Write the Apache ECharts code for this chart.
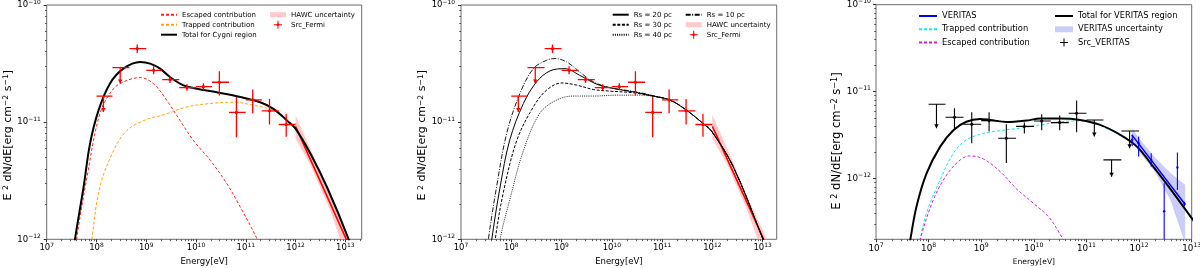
<!DOCTYPE html>
<html>
<head>
<meta charset="utf-8">
<script src="https://cdn.jsdelivr.net/npm/echarts@6.0.0/dist/echarts.min.js"></script>
<style>
html,body{margin:0;padding:0;background:#fff;}
#chart{width:1200px;height:268px;}
</style>
</head>
<body>
<div id="chart"></div>
<script>
// ================= DATA =================
// tick labels are 10^n
const xTickExp = [7, 8, 9, 10, 11, 12, 13];
const yTickExp = [-12, -11, -10];

// ---- Fermi-LAT points (Src_Fermi), E [eV], E^2 dN/dE [erg cm^-2 s^-1]
const fermiE   = [1.38e8, 3.0e8, 6.6e8, 1.41e9, 3.0e9, 6.6e9, 1.41e10, 2.95e10, 6.5e10, 1.38e11, 3.0e11, 6.5e11];
const fermiElo = [1.0e8, 2.1e8, 4.6e8, 1.0e9, 2.1e9, 4.6e9, 1.0e10, 2.1e10, 4.6e10, 1.0e11, 2.1e11, 4.6e11];
const fermiEhi = [2.1e8, 4.6e8, 1.0e9, 2.1e9, 4.6e9, 1.0e10, 2.1e10, 4.6e10, 1.0e11, 2.1e11, 4.6e11, 1.0e12];
const fermiF   = [1.67e-11, 2.92e-11, 4.24e-11, 2.77e-11, 2.31e-11, 1.97e-11, 2.01e-11, 2.19e-11, 1.21e-11, 1.55e-11, 1.25e-11, 9.55e-12];
const fermiFlo = [1.22e-11, 2.14e-11, 3.9e-11, 2.56e-11, 2.16e-11, 1.85e-11, 1.87e-11, 1.69e-11, 7.45e-12, 1.19e-11, 9.55e-12, 7.5e-12];
const fermiFhi = [1.67e-11, 2.92e-11, 4.6e-11, 3.0e-11, 2.47e-11, 2.11e-11, 2.15e-11, 2.72e-11, 1.64e-11, 1.9e-11, 1.58e-11, 1.18e-11];
const fermiUL  = [1, 1, 0, 0, 0, 0, 0, 0, 0, 0, 0, 0];

// ---- HAWC best fit and uncertainty band
const hawcLineE = [1.0e12, 1.05e13, 1.5e13];
const hawcLineF = [9.2e-12, 1.0e-12, 7.0e-13];
const hawcBandE  = [1.0e12, 2.0e12, 5.0e12, 1.0e13, 1.2e13];
const hawcBandLo = [7.2e-12, 4.3e-12, 1.75e-12, 7.5e-13, 6.0e-13];
const hawcBandHi = [1.15e-11, 5.9e-12, 2.3e-12, 1.2e-12, 1.0e-12];

// ---- Panel 1 model curves (Cygni region)
const p1TotalE = [3.2e7, 3.7e7, 5.5e7, 7.4e7, 1.1e8, 1.86e8, 3.47e8, 7.6e8, 1.2e9, 1.9e9, 3.0e9, 5.6e9, 1.05e10, 2.6e10, 7.8e10, 1.95e11, 3.6e11, 6.8e11, 1.0e12, 2.0e12, 4.3e12, 1.17e13, 1.5e13];
const p1TotalF = [6.0e-13, 1.0e-12, 2.78e-12, 6.5e-12, 1.26e-11, 2.13e-11, 2.86e-11, 3.26e-11, 3.16e-11, 2.86e-11, 2.43e-11, 2.06e-11, 1.93e-11, 1.80e-11, 1.64e-11, 1.48e-11, 1.30e-11, 1.03e-11, 8.8e-12, 5.37e-12, 2.78e-12, 1.0e-12, 7.0e-13];
const p1EscE = [3.4e7, 4.0e7, 6.3e7, 1.17e8, 2.2e8, 4.1e8, 7.6e8, 1.4e9, 2.6e9, 4.8e9, 8.9e9, 1.95e10, 4.2e10, 7.8e10, 1.7e11, 2.2e11];
const p1EscF = [5.0e-13, 1.0e-12, 3.2e-12, 1.18e-11, 1.93e-11, 2.27e-11, 2.4e-11, 2.13e-11, 1.53e-11, 1.03e-11, 6.97e-12, 4.7e-12, 2.97e-12, 1.88e-12, 1.0e-12, 7.5e-13];
const p1TrapE = [7.0e7, 8.1e7, 1.17e8, 2.2e8, 4.1e8, 8.9e8, 2.6e9, 6.6e9, 2.2e10, 5.8e10, 1.45e11, 3.6e11, 6.8e11, 1.0e12, 2.0e12, 4.3e12, 1.17e13, 1.5e13];
const p1TrapF = [5.0e-13, 1.0e-12, 2.78e-12, 5.7e-12, 8.5e-12, 1.03e-11, 1.18e-11, 1.35e-11, 1.45e-11, 1.48e-11, 1.39e-11, 1.26e-11, 1.03e-11, 8.7e-12, 5.3e-12, 2.75e-12, 1.0e-12, 7.0e-13];

// ---- Panel 2 model curves (different Rs)
const rs20E = [3.4e7, 4.1e7, 6.0e7, 9.3e7, 1.74e8, 3.2e8, 5.9e8, 1.17e9, 2.3e9, 5.0e9, 1.07e10, 2.7e10, 6.8e10, 1.45e11, 3.1e11, 6.6e11, 9.8e11, 2.6e12, 1.02e13, 1.4e13];
const rs20F = [5.0e-13, 1.0e-12, 2.8e-12, 7.0e-12, 1.44e-11, 2.21e-11, 2.74e-11, 2.86e-11, 2.51e-11, 2.11e-11, 1.94e-11, 1.81e-11, 1.67e-11, 1.54e-11, 1.26e-11, 9.7e-12, 8.3e-12, 4.17e-12, 1.0e-12, 7.0e-13];
const rs10E = [2.9e7, 3.5e7, 5.1e7, 8.1e7, 1.48e8, 2.75e8, 5.0e8, 7.4e8, 1.26e9, 2.3e9, 4.3e9, 9.1e9, 2.7e10, 6.8e10, 1.45e11, 3.1e11, 6.6e11, 9.8e11, 2.6e12, 1.02e13, 1.4e13];
const rs10F = [5.0e-13, 1.0e-12, 2.8e-12, 8.0e-12, 1.75e-11, 2.86e-11, 3.37e-11, 3.49e-11, 3.27e-11, 2.68e-11, 2.21e-11, 1.97e-11, 1.83e-11, 1.68e-11, 1.54e-11, 1.26e-11, 9.7e-12, 8.3e-12, 4.17e-12, 1.0e-12, 7.0e-13];
const rs30E = [4.0e7, 4.8e7, 6.9e7, 1.29e8, 2.75e8, 5.0e8, 1.0e9, 2.0e9, 4.3e9, 9.1e9, 2.7e10, 6.8e10, 1.45e11, 3.1e11, 6.6e11, 9.8e11, 2.6e12, 1.02e13, 1.4e13];
const rs30F = [5.0e-13, 1.0e-12, 2.47e-12, 7.0e-12, 1.35e-11, 1.87e-11, 2.16e-11, 2.07e-11, 1.9e-11, 1.84e-11, 1.78e-11, 1.66e-11, 1.54e-11, 1.26e-11, 9.7e-12, 8.3e-12, 4.17e-12, 1.0e-12, 7.0e-13];
const rs40E = [5.0e7, 6.0e7, 9.3e7, 1.74e8, 3.7e8, 7.9e8, 1.7e9, 4.3e9, 1.26e10, 3.6e10, 6.8e10, 1.45e11, 3.1e11, 6.6e11, 9.8e11, 2.6e12, 1.02e13, 1.4e13];
const rs40F = [5.0e-13, 1.0e-12, 2.16e-12, 5.7e-12, 1.19e-11, 1.54e-11, 1.67e-11, 1.67e-11, 1.70e-11, 1.70e-11, 1.66e-11, 1.54e-11, 1.26e-11, 9.7e-12, 8.3e-12, 4.17e-12, 1.0e-12, 7.0e-13];

// ---- Panel 3 (VERITAS region)
const p3TotalE = [4.0e7, 4.5e7, 5.9e7, 9.1e7, 1.66e8, 2.95e8, 5.2e8, 9.5e8, 1.48e9, 3.0e9, 7.2e9, 1.32e10, 3.2e10, 7.6e10, 1.82e11, 4.4e11, 9.1e11, 1.86e12, 4.5e12, 1.0e13, 1.2e13];
const p3TotalF = [1.3e-13, 2.0e-13, 4.8e-13, 1.14e-12, 2.33e-12, 3.6e-12, 4.5e-12, 4.85e-12, 4.72e-12, 4.47e-12, 4.64e-12, 4.9e-12, 4.9e-12, 4.72e-12, 4.14e-12, 3.18e-12, 2.33e-12, 1.37e-12, 6.8e-13, 3.5e-13, 3.0e-13];
const p3TrapE = [6.0e7, 6.9e7, 9.1e7, 1.66e8, 2.95e8, 5.2e8, 1.1e9, 2.3e9, 5.5e9, 1.32e10, 3.2e10, 7.6e10, 1.35e11, 1.82e11, 4.4e11, 9.1e11, 1.86e12, 4.5e12, 1.0e13];
const p3TrapF = [1.3e-13, 2.0e-13, 4.0e-13, 9.7e-13, 1.95e-12, 2.79e-12, 3.3e-12, 3.56e-12, 3.8e-12, 4.14e-12, 4.5e-12, 4.6e-12, 4.45e-12, 4.1e-12, 3.15e-12, 2.3e-12, 1.36e-12, 6.8e-13, 3.5e-13];
const p3EscE = [6.0e7, 6.9e7, 1.23e8, 2.2e8, 4.0e8, 6.0e8, 1.1e9, 2.3e9, 4.7e9, 9.8e9, 2.0e10, 3.6e10, 4.5e10];
const p3EscF = [1.3e-13, 2.0e-13, 5.7e-13, 1.1e-12, 1.64e-12, 1.82e-12, 1.68e-12, 1.2e-12, 7.6e-13, 5.2e-13, 3.5e-13, 2.0e-13, 1.6e-13];

// VERITAS power law and uncertainty band
const verLineE = [7.3e11, 7.4e12];
const verLineF = [3.18e-12, 5.1e-13];
const verBandE  = [7.3e11, 1.0e12, 2.0e12, 4.0e12, 7.5e12];
const verBandLo = [2.66e-12, 2.04e-12, 1.2e-12, 5.5e-13, 1.8e-13];
const verBandHi = [3.8e-12, 2.9e-12, 1.75e-12, 1.15e-12, 8.5e-13];

// Src_VERITAS (LAT points in the VERITAS region)
const srcvE   = [1.41e8, 3.1e8, 6.6e8, 1.41e9, 3.0e9, 6.6e9, 1.41e10, 3.1e10, 6.5e10, 1.41e11, 3.0e11, 6.6e11];
const srcvElo = [1.0e8, 2.1e8, 4.6e8, 1.0e9, 2.1e9, 4.6e9, 1.0e10, 2.1e10, 4.6e10, 1.0e11, 2.1e11, 4.6e11];
const srcvEhi = [2.1e8, 4.6e8, 1.0e9, 2.1e9, 4.6e9, 1.0e10, 2.1e10, 4.6e10, 1.0e11, 2.1e11, 4.6e11, 1.0e12];
const srcvF   = [7.15e-12, 5.07e-12, 4.22e-12, 4.64e-12, 2.91e-12, 3.98e-12, 4.6e-12, 4.4e-12, 5.64e-12, 4.72e-12, 1.64e-12, 3.53e-12];
const srcvFlo = [3.8e-12, 3.6e-12, 2.55e-12, 3.5e-12, 1.51e-12, 3.3e-12, 3.6e-12, 3.6e-12, 3.4e-12, 3.04e-12, 1.05e-12, 2.23e-12];
const srcvFhi = [7.15e-12, 6.45e-12, 5.8e-12, 5.8e-12, 4.2e-12, 4.4e-12, 5.5e-12, 5.3e-12, 7.9e-12, 4.72e-12, 1.64e-12, 3.53e-12];
const srcvUL  = [1, 0, 0, 0, 0, 0, 0, 0, 0, 1, 1, 1];

// VERITAS spectral points
const vptE   = [7.4e11, 9.8e11, 1.7e12, 3.0e12, 5.35e12, 7.3e12];
const vptF   = [2.8e-12, 2.55e-12, 1.64e-12, 4.2e-13, 1.34e-12, 5.1e-13];
const vptFlo = [2.35e-12, 1.79e-12, 1.37e-12, 1.0e-13, 7.4e-13, 4.8e-13];
const vptFhi = [3.2e-12, 3.04e-12, 1.95e-12, 8.8e-13, 2.0e-12, 5.4e-13];

// ================= CHART =================
const L = Math.log10;
const FONT = 'DejaVu Sans';
const YNAME = 'E {s|2} dN/dE[erg cm{s|\u22122} s{s|\u22121}]';

function curve(E, F) { return E.map((e, i) => [L(e), L(F[i])]); }
function errData(E, Elo, Ehi, F, Flo, Fhi, UL) {
  return E.map((e, i) => [L(e), L(F[i]), L(Elo[i]), L(Ehi[i]), L(Flo[i]), L(Fhi[i]), UL ? UL[i] : 0]);
}
function bandData(E, lo, hi) { return E.map((e, i) => [L(e), L(lo[i]), L(hi[i])]); }

function minorVals(lo, hi) {
  const out = [];
  for (let n = Math.floor(lo) - 1; n <= Math.ceil(hi); n++) {
    for (let k = 2; k <= 9; k++) {
      const v = n + L(k);
      if (v >= lo - 1e-9 && v <= hi + 1e-9) out.push(v);
    }
  }
  return out;
}
function pow(v) {
  const n = Math.round(v);
  return '{b|10}{s|' + (n < 0 ? '\u2212' + (-n) : n) + '}';
}
function rich(fs) {
  return {
    b: { fontFamily: FONT, fontSize: fs, color: '#000', lineHeight: fs * 1.35 },
    s: { fontFamily: FONT, fontSize: fs * 0.7, color: '#000', verticalAlign: 'top', lineHeight: fs * 0.75 }
  };
}
function nameRich(fs) {
  return {
    s: { fontFamily: FONT, fontSize: fs * 0.7, color: '#000', verticalAlign: 'top', lineHeight: fs * 0.8 }
  };
}

const panels = [
  { left: 46.7, top: 5, width: 315, height: 234.3, xmax: 13.33, ymin: -12, fs: 8.5, nameFs: 8.5, yNameFs: 11, yShift: 26, xNameGap: 15, yNameGap: 28, yLabMargin: 6 },
  { left: 461, top: 5, width: 315.7, height: 234.3, xmax: 13.28, ymin: -12, fs: 8.5, nameFs: 8.5, yNameFs: 11, yShift: 26, xNameGap: 15, yNameGap: 31, yLabMargin: 6 },
  { left: 876, top: 4.7, width: 315.7, height: 234.6, xmax: 13, ymin: L(2e-13), fs: 8.8, nameFs: 7.6, yNameFs: 11.6, yShift: 38, xNameGap: 18, yNameGap: 30, yLabMargin: 5 }
];

const grid = [], xAxis = [], yAxis = [];
panels.forEach((p, i) => {
  grid.push({ left: p.left, top: p.top, width: p.width, height: p.height, show: true,
    borderColor: '#6a6a6a', borderWidth: 1, backgroundColor: 'transparent', containLabel: false, outerBoundsMode: 'none' });
  const tickStyle = { color: '#333', width: 1 };
  xAxis.push({
    type: 'value', gridIndex: i, min: 7, max: p.xmax, position: 'bottom', offset: 0,
    axisLine: { show: false }, splitLine: { show: false },
    axisTick: { show: true, length: 3, lineStyle: tickStyle, customValues: xTickExp },
    axisLabel: { show: true, customValues: xTickExp, margin: 3, formatter: pow, rich: rich(p.fs) },
    name: 'Energy[eV]', nameLocation: 'middle', nameGap: p.xNameGap,
    nameTextStyle: { fontFamily: FONT, fontSize: p.nameFs, color: '#000' }
  });
  xAxis.push({
    type: 'value', gridIndex: i, min: 7, max: p.xmax, position: 'bottom', offset: 0,
    axisLine: { show: false }, splitLine: { show: false }, axisLabel: { show: false },
    axisTick: { show: true, length: 1.8, lineStyle: { color: '#333', width: 0.8 }, customValues: minorVals(7, p.xmax) }
  });
  yAxis.push({
    type: 'value', gridIndex: i, min: p.ymin, max: -10, position: 'left', offset: 0,
    axisLine: { show: false }, splitLine: { show: false },
    axisTick: { show: true, length: 3, lineStyle: tickStyle, customValues: yTickExp },
    axisLabel: { show: true, customValues: yTickExp, margin: p.yLabMargin, formatter: pow, rich: rich(p.fs) },
    name: YNAME, nameLocation: 'middle', nameGap: p.yNameGap, nameRotate: 90,
    nameTextStyle: { fontFamily: FONT, fontSize: p.yNameFs, color: '#000', rich: nameRich(p.yNameFs),
      padding: [0, p.yShift, 0, 0] }
  });
  yAxis.push({
    type: 'value', gridIndex: i, min: p.ymin, max: -10, position: 'left', offset: 0,
    axisLine: { show: false }, splitLine: { show: false }, axisLabel: { show: false },
    axisTick: { show: true, length: 1.8, lineStyle: { color: '#333', width: 0.8 }, customValues: minorVals(p.ymin, -10) }
  });
});

function lineSeries(name, panel, data, color, width, type, z) {
  return {
    name: name, type: 'line', xAxisIndex: 2 * panel, yAxisIndex: 2 * panel, data: data,
    symbol: 'none', smooth: 0.35, clip: true, z: z || 3, silent: true,
    lineStyle: { color: color, width: width, type: type || 'solid' },
    itemStyle: { color: color }
  };
}
function bandSeries(name, panel, data, color) {
  return {
    name: name, type: 'custom', xAxisIndex: 2 * panel, yAxisIndex: 2 * panel, data: data,
    clip: true, z: 1, silent: true, itemStyle: { color: color },
    renderItem: function (params, api) {
      if (params.dataIndex !== 0) return null;
      const n = params.dataInsideLength;
      const pts = [];
      for (let i = 0; i < n; i++) pts.push(api.coord([api.value(0, i), api.value(2, i)]));
      for (let i = n - 1; i >= 0; i--) pts.push(api.coord([api.value(0, i), api.value(1, i)]));
      return { type: 'polygon', shape: { points: pts }, style: { fill: color } };
    }
  };
}
function errSeries(name, panel, data, color, lw, r) {
  return {
    name: name, type: 'custom', xAxisIndex: 2 * panel, yAxisIndex: 2 * panel, data: data,
    clip: true, z: 6, silent: true, itemStyle: { color: color },
    renderItem: function (params, api) {
      const x = api.value(0), y = api.value(1);
      const c = api.coord([x, y]);
      const xl = api.coord([api.value(2), y]), xh = api.coord([api.value(3), y]);
      const yl = api.coord([x, api.value(4)]), yh = api.coord([x, api.value(5)]);
      const ul = api.value(6);
      const st = { stroke: color, lineWidth: lw };
      const ch = [];
      if (Math.abs(xh[0] - xl[0]) > 0.5) ch.push({ type: 'line', shape: { x1: xl[0], y1: c[1], x2: xh[0], y2: c[1] }, style: st });
      ch.push({ type: 'line', shape: { x1: c[0], y1: yh[1], x2: c[0], y2: yl[1] }, style: st });
      if (ul) {
        ch.push({ type: 'polygon', shape: { points: [[c[0] - 2.2, yl[1] - 4], [c[0] + 2.2, yl[1] - 4], [c[0], yl[1]]] }, style: { fill: color } });
      } else {
        ch.push({ type: 'circle', shape: { cx: c[0], cy: c[1], r: r }, style: { fill: color } });
      }
      return { type: 'group', children: ch };
    }
  };
}

const fermi = errData(fermiE, fermiElo, fermiEhi, fermiF, fermiFlo, fermiFhi, fermiUL);
const srcv = errData(srcvE, srcvElo, srcvEhi, srcvF, srcvFlo, srcvFhi, srcvUL);
const vpts = errData(vptE, vptE, vptE, vptF, vptFlo, vptFhi, null);

const series = [
  // panel 1
  bandSeries('HAWC uncertainty|1', 0, bandData(hawcBandE, hawcBandLo, hawcBandHi), '#ffcaca'),
  lineSeries('HAWC fit|1', 0, curve(hawcLineE, hawcLineF), '#ff0000', 1.6, 'solid', 2),
  lineSeries('Escaped contribution|1', 0, curve(p1EscE, p1EscF), '#ff2020', 1, [3, 2]),
  lineSeries('Trapped contribution|1', 0, curve(p1TrapE, p1TrapF), '#ffa500', 1, [3, 2]),
  lineSeries('Total for Cygni region|1', 0, curve(p1TotalE, p1TotalF), '#000000', 2, 'solid', 4),
  errSeries('Src_Fermi|1', 0, fermi, '#ff0000', 1.3, 1.6),
  // panel 2
  bandSeries('HAWC uncertainty|2', 1, bandData(hawcBandE, hawcBandLo, hawcBandHi), '#ffcaca'),
  lineSeries('HAWC fit|2', 1, curve(hawcLineE, hawcLineF), '#ff0000', 1.6, 'solid', 2),
  lineSeries('Rs = 20 pc|2', 1, curve(rs20E, rs20F), '#000000', 1, 'solid'),
  lineSeries('Rs = 30 pc|2', 1, curve(rs30E, rs30F), '#000000', 1, [3, 1.6]),
  lineSeries('Rs = 40 pc|2', 1, curve(rs40E, rs40F), '#000000', 0.9, [1, 1.2]),
  lineSeries('Rs = 10 pc|2', 1, curve(rs10E, rs10F), '#000000', 0.9, [5, 1.5, 1, 1.5]),
  errSeries('Src_Fermi|2', 1, fermi, '#ff0000', 1.3, 1.6),
  // panel 3
  bandSeries('VERITAS uncertainty|3', 2, bandData(verBandE, verBandLo, verBandHi), '#ccccf8'),
  lineSeries('VERITAS|3', 2, curve(verLineE, verLineF), '#0000ff', 1.5, 'solid', 3),
  lineSeries('Trapped contribution|3', 2, curve(p3TrapE, p3TrapF), '#19e6e6', 1, [3, 2]),
  lineSeries('Escaped contribution|3', 2, curve(p3EscE, p3EscF), '#cc22cc', 1, [3, 2]),
  lineSeries('Total for VERITAS region|3', 2, curve(p3TotalE, p3TotalF), '#000000', 2, 'solid', 4),
  errSeries('Src_VERITAS|3', 2, srcv, '#000000', 1.1, 1.5),
  errSeries('VERITAS points|3', 2, vpts, '#0000ff', 1.1, 1.2)
];

const ICON_ERR = 'path://M0,0M16,8M4,3.5h8v1h-8zM7.5,0h1v8h-1zM9.4,4a1.4,1.4 0 1 1 -2.8,0a1.4,1.4 0 1 1 2.8,0z';
const ICON_BAND = 'path://M0,0M16,8M0,1.5h16v5h-16z';
const ICON_ERR3 = 'path://M0,0M18,10M5,4.5h8v1h-8zM8.5,1h1v8h-1z';
const ICON_BAND3 = 'path://M0,0M18,10M0,2h18v6h-18z';

// line entries: hide the symbol that ECharts adds to line legend icons
function ln(name) { return { name: name, itemStyle: { opacity: 0 } }; }

function legend(left, top, data, fs, ih, iw, gap) {
  return {
    left: left, top: top, orient: 'vertical', padding: 0, itemGap: gap, itemWidth: iw, itemHeight: ih,
    selectedMode: false, data: data, formatter: n => n.split('|')[0],
    textStyle: { fontFamily: FONT, fontSize: fs, color: '#000', lineHeight: ih }
  };
}
const legends = [
  legend(160, 10.7, [ln('Escaped contribution|1'), ln('Trapped contribution|1'), ln('Total for Cygni region|1')], 7, 8, 16, 2),
  legend(270, 10.7, [{ name: 'HAWC uncertainty|1', icon: ICON_BAND }, { name: 'Src_Fermi|1', icon: ICON_ERR }], 7, 8, 16, 2),
  legend(611.7, 10.7, [ln('Rs = 20 pc|2'), ln('Rs = 30 pc|2'), ln('Rs = 40 pc|2')], 7, 8, 16, 2),
  legend(684.7, 10.7, [ln('Rs = 10 pc|2'), { name: 'HAWC uncertainty|2', icon: ICON_BAND }, { name: 'Src_Fermi|2', icon: ICON_ERR }], 7, 8, 16, 2),
  legend(918, 11, [ln('VERITAS|3'), ln('Trapped contribution|3'), ln('Escaped contribution|3')], 8.3, 10, 18, 3.3),
  legend(1054, 11, [ln('Total for VERITAS region|3'), { name: 'VERITAS uncertainty|3', icon: ICON_BAND3 }, { name: 'Src_VERITAS|3', icon: ICON_ERR3 }], 8.3, 10, 18, 3.3)
];

const chart = echarts.init(document.getElementById('chart'), null, { renderer: 'canvas' });
chart.setOption({
  animation: false,
  backgroundColor: '#ffffff',
  textStyle: { fontFamily: FONT },
  grid: grid, xAxis: xAxis, yAxis: yAxis,
  legend: legends,
  series: series
});
</script>
</body>
</html>
